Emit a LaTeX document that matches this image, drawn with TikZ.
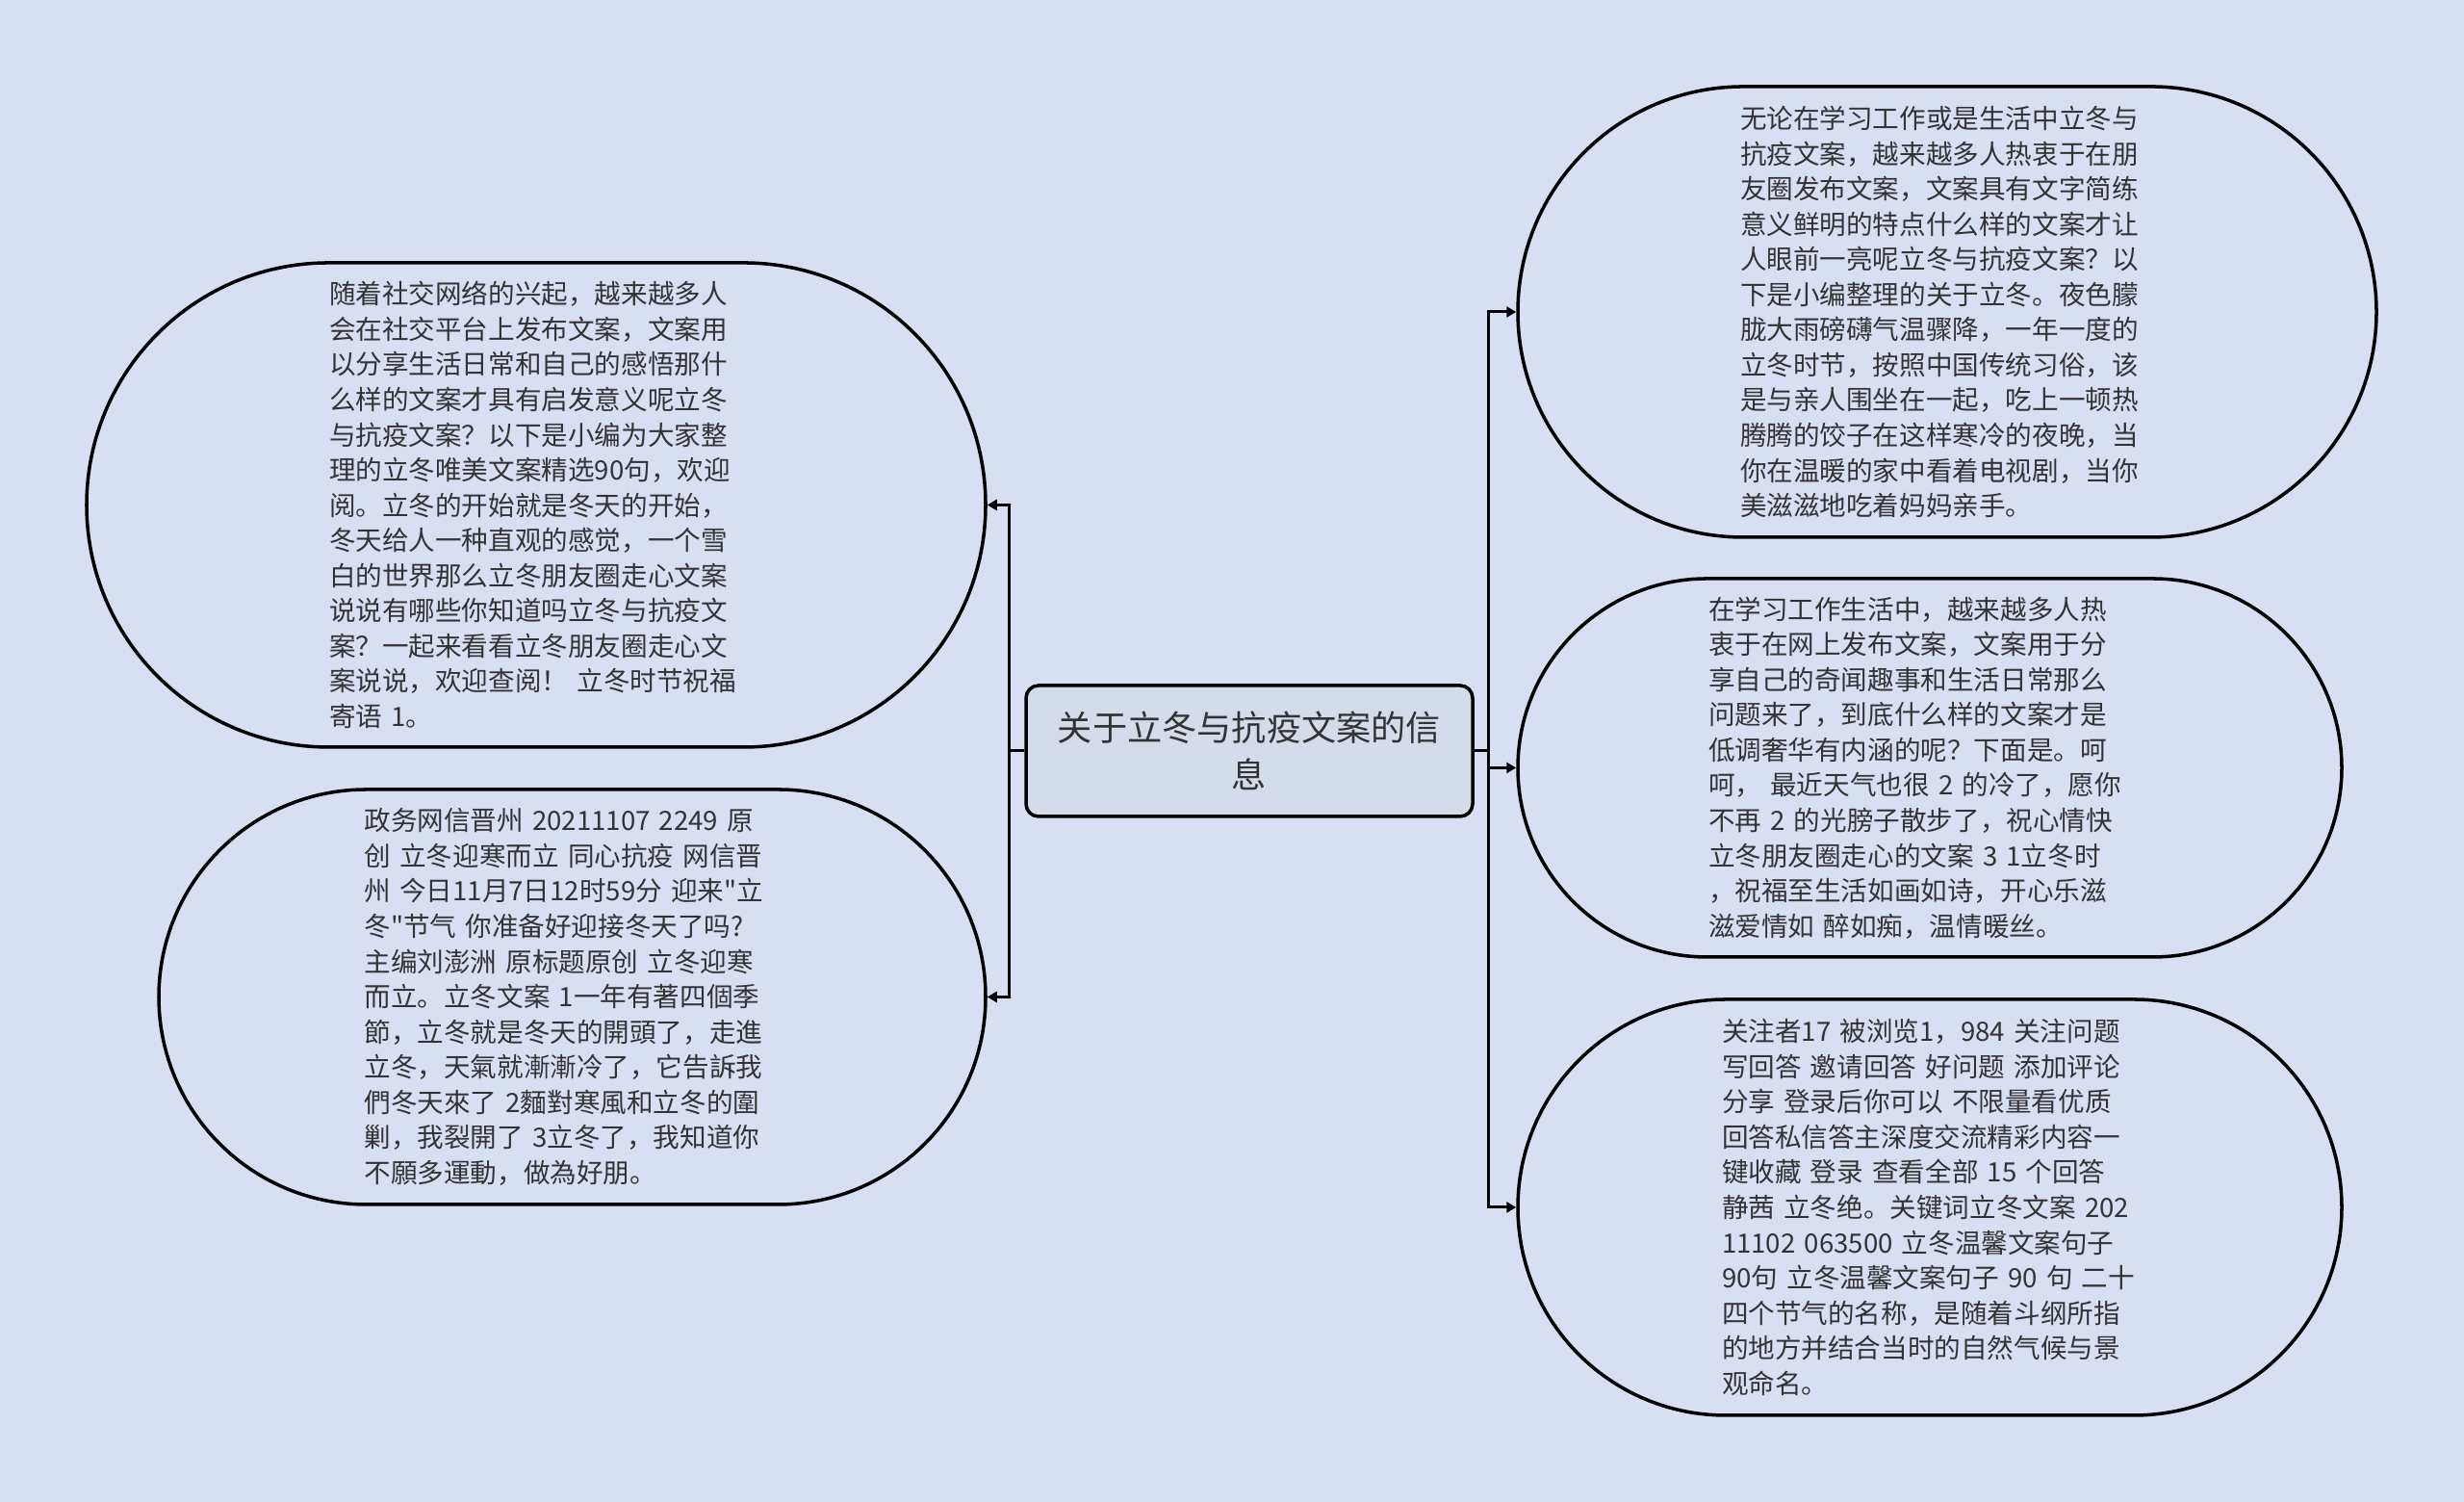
\documentclass[tikz,border=0pt]{standalone}
\usepackage{fontspec}
\usepackage{tikz}
\usetikzlibrary{arrows.meta}
\newfontfamily\cjk{Noto Sans CJK SC}
\definecolor{bgc}{HTML}{D9DFF2}
\definecolor{hubfill}{HTML}{D5DCE9}
\definecolor{ink}{HTML}{333333}

\begin{document}
\begin{tikzpicture}[every node/.style={text=ink},
          hub/.style={draw=black, fill=hubfill, rounded corners=1.3mm, line width=1pt,
                      align=center, minimum width=4.64cm, minimum height=1.36cm,
                      font=\cjk\fontsize{10.3pt}{14pt}\selectfont},
          leaf/.style 2 args={draw=black, line width=1pt, align=left, inner sep=0pt,
                      minimum width=#1, minimum height=#2, rounded corners=#2/2,
                      font=\cjk\fontsize{7.85pt}{10.4pt}\selectfont},
          ar/.style={-{Triangle[length=1mm, width=1.1mm]}, draw=black, line width=0.85pt}]
        \fill[bgc] (0,0) rectangle (25.6,15.6);
        \node[hub] (c) at (12.98,7.80) {关于立冬与抗疫文案的信\\息};
        % left side
        \node[leaf={9.34cm}{5.03cm}, text width=4.30cm] (lt) at (5.57,10.355)
             {随着社交网络的兴起，越来越多人\\会在社交平台上发布文案，文案用\\以分享生活日常和自己的感悟那什\\么样的文案才具有启发意义呢立冬\\与抗疫文案？以下是小编为大家整\\理的立冬唯美文案精选90句，欢迎\\阅。立冬的开始就是冬天的开始，\\冬天给人一种直观的感觉，一个雪\\白的世界那么立冬朋友圈走心文案\\说说有哪些你知道吗立冬与抗疫文\\案？一起来看看立冬朋友圈走心文\\案说说，欢迎查阅！~立冬时节祝福\\寄语 1。};
        \node[leaf={8.59cm}{4.31cm}, text width=4.32cm] (lb) at (5.945,5.245)
             {政务网信晋州 20211107 2249 原\\创 立冬迎寒而立 同心抗疫 网信晋\\州 今日11月7日12时59分 迎来"立\\冬"节气 你准备好迎接冬天了吗?\\主编刘澎洲 原标题原创 立冬迎寒\\而立。立冬文案 1一年有著四個季\\節，立冬就是冬天的開頭了，走進\\立冬，天氣就漸漸冷了，它告訴我\\們冬天來了 2麵對寒風和立冬的圍\\剿，我裂開了 3立冬了，我知道你\\不願多運動，做為好朋。};
        % right side
        \node[leaf={8.92cm}{4.68cm}, text width=4.30cm] (rt) at (20.23,12.36)
             {无论在学习工作或是生活中立冬与\\抗疫文案，越来越多人热衷于在朋\\友圈发布文案，文案具有文字简练\\意义鲜明的特点什么样的文案才让\\人眼前一亮呢立冬与抗疫文案？以\\下是小编整理的关于立冬。夜色朦\\胧大雨磅礴气温骤降，一年一度的\\立冬时节，按照中国传统习俗，该\\是与亲人围坐在一起，吃上一顿热\\腾腾的饺子在这样寒冷的夜晚，当\\你在温暖的家中看着电视剧，当你\\美滋滋地吃着妈妈亲手。};
        \node[leaf={8.56cm}{3.93cm}, text width=4.60cm] (rm) at (20.05,7.625)
             {在学习工作生活中，越来越多人热\\衷于在网上发布文案，文案用于分\\享自己的奇闻趣事和生活日常那么\\问题来了，到底什么样的文案才是\\低调奢华有内涵的呢？下面是。呵\\呵，~最近天气也很 2 的冷了，愿你\\不再 2 的光膀子散步了，祝心情快\\立冬朋友圈走心的文案 3 1立冬时\\，祝福至生活如画如诗，开心乐滋\\滋爱情如 醉如痴，温情暖丝。};
        \node[leaf={8.56cm}{4.32cm}, text width=4.32cm] (rb) at (20.05,3.06)
             {关注者17 被浏览1，984 关注问题\\写回答 邀请回答 好问题 添加评论\\分享 登录后你可以 不限量看优质\\回答私信答主深度交流精彩内容一\\键收藏 登录 查看全部 15 个回答\\静茜 立冬绝。关键词立冬文案 202\\11102 063500 立冬温馨文案句子\\90句~立冬温馨文案句子~90~句~二十\\四个节气的名称，是随着斗纲所指\\的地方并结合当时的自然气候与景\\观命名。};
        % connectors
        \draw[ar] (c.west) -- ++(-0.16,0) |- (lt.east);
        \draw[ar] (c.west) -- ++(-0.16,0) |- (lb.east);
        \draw[ar] (c.east) -- ++(0.15,0) |- (rt.west);
        \draw[ar] (c.east) -- ++(0.15,0) |- (rm.west);
        \draw[ar] (c.east) -- ++(0.15,0) |- (rb.west);
      \end{tikzpicture}
\end{document}
